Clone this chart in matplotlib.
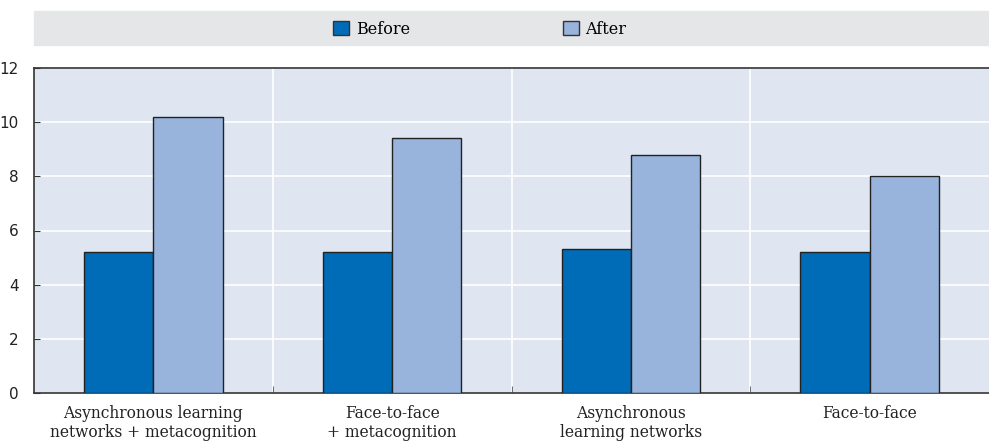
import matplotlib.pyplot as plt
import matplotlib.patches as mpatches
import numpy as np

categories = ["Asynchronous learning\nnetworks + metacognition",
              "Face-to-face\n+ metacognition",
              "Asynchronous\nlearning networks",
              "Face-to-face"]
before = [5.2, 5.2, 5.3, 5.2]
after = [10.2, 9.4, 8.8, 8.0]

C_BEFORE = "#006bb6"
C_AFTER = "#98b3dc"
BG = "#dfe6f2"

plt.rcParams['font.family'] = ['DejaVu Serif']

fig = plt.figure(figsize=(9.89, 4.41), dpi=100)
ax = fig.add_axes([34 / 989, 1 - 393 / 441, 955 / 989, 325 / 441])
ax.set_facecolor(BG)

x = np.arange(len(categories))
w = 0.29
ax.bar(x - w / 2, before, w, color=C_BEFORE, edgecolor="#222222", linewidth=1, zorder=3)
ax.bar(x + w / 2, after, w, color=C_AFTER, edgecolor="#222222", linewidth=1, zorder=3)

ax.set_xlim(-0.5, len(categories) - 0.5)
ax.set_ylim(0, 12)
ax.set_yticks(range(0, 13, 2))
ax.set_xticks(x)
ax.set_xticklabels(categories, fontsize=11.2, color="#222222", linespacing=1.12)
ax.set_xticks(x[:-1] + 0.5, minor=True)
ax.tick_params(axis='x', which='major', length=0, pad=9)
ax.tick_params(axis='x', which='minor', direction='in', length=5, color="#555555")
ax.tick_params(axis='y', direction='in', length=4, labelsize=11, labelcolor="#222222", pad=11,
               color="#333333")
for lbl in ax.get_yticklabels():
    lbl.set_family('DejaVu Sans')

ax.grid(axis='y', color='white', linewidth=1.2, zorder=1)
ax.grid(axis='x', which='minor', color='white', linewidth=1.2, zorder=1)
ax.set_axisbelow(True)

for s in ['top', 'left', 'bottom']:
    ax.spines[s].set_color("#333333")
    ax.spines[s].set_linewidth(1.2)
ax.spines['right'].set_visible(False)

# legend band
band = mpatches.Rectangle((34 / 989, 1 - 45 / 441), 955 / 989, 34 / 441,
                          transform=fig.transFigure, color="#e5e6e8", zorder=0)
fig.patches.append(band)
handles = [mpatches.Patch(facecolor=C_BEFORE, edgecolor="#333333", label="Before"),
           mpatches.Patch(facecolor=C_AFTER, edgecolor="#333333", label="After")]
fig.legend(handles=handles, loc='center', bbox_to_anchor=(480 / 989, 1 - 29 / 441),
           ncol=2, frameon=False, fontsize=11.5, handlelength=1.0, handleheight=1.0,
           columnspacing=9.6, handletextpad=0.4)

fig.savefig("out.png", dpi=100)
